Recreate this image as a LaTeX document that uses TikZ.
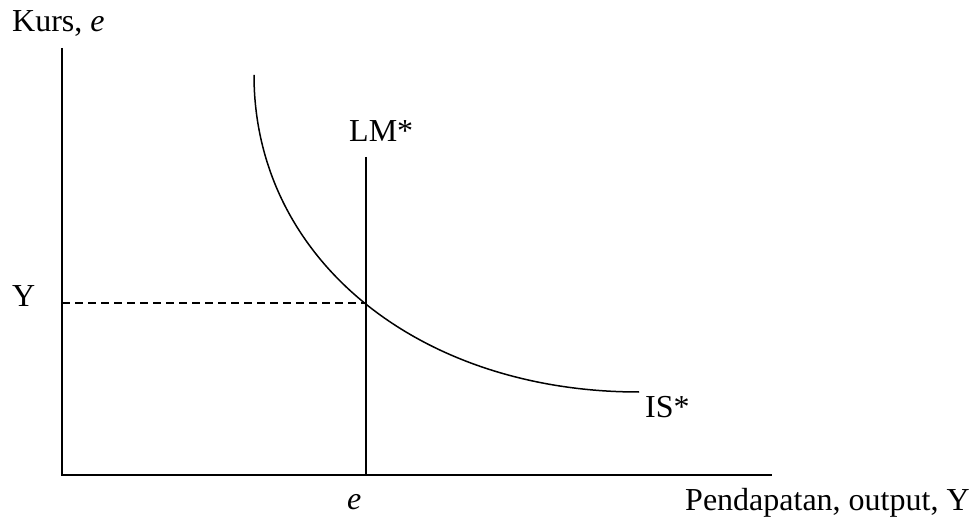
\documentclass[tikz,border=0pt]{standalone}
\usepackage{fontspec}
\setmainfont{Liberation Serif}
\begin{document}
\begin{tikzpicture}[x=1pt,y=-1pt,
  axisline/.style={line width=1.5pt},
  curveline/.style={line width=1.5pt},
  guide/.style={line width=1.4pt,dash pattern=on 8pt off 5pt},
  lbl/.style={font=\fontsize{32}{36}\selectfont,inner sep=0pt}]
\useasboundingbox (0,0) rectangle (974,518);
\coordinate (O) at (62,475);
\coordinate (ytop) at (62,48);
\coordinate (xend) at (772,475);
\coordinate (lmtop) at (366,157);
\coordinate (lmbot) at (366,475);
\coordinate (E) at (366,303);
\coordinate (yE) at (62,303);
\coordinate (isstart) at (254,75);
\coordinate (isend) at (639,392);
\draw[axisline] (ytop) -- (O) -- (xend);
\draw[curveline] (lmtop) -- (lmbot);
\draw[curveline] (isstart) .. controls (254,260) and (420,392) .. (isend);
\draw[guide] (yE) -- (E);
\node[lbl,anchor=base west] (kurs) at (12,32) {Kurs, \textit{e}};
\node[lbl,anchor=base west] (lm) at (349,142) {LM*};
\node[lbl,anchor=base west] (ylab) at (12,307) {Y};
\node[lbl,anchor=base west] (is) at (645,417) {IS*};
\node[lbl,anchor=base west] (elab) at (347,509) {\textit{e}};
\node[lbl,anchor=base west] (xlab) at (685,510) {Pendapatan, output, Y};
\end{tikzpicture}
\end{document}
